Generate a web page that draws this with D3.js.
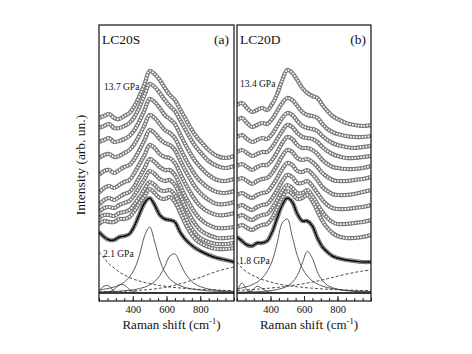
<!DOCTYPE html>
<html>
<head>
<meta charset="utf-8">
<script src="https://cdn.jsdelivr.net/npm/d3@7"></script>
<style>
  body { margin: 0; background: #fff; }
  svg { display: block; }
  text { font-family: "Liberation Serif", "Times New Roman", serif; fill: #111; }
</style>
</head>
<body>
<div id="chart"></div>
<script>
// Raman shift grid (cm-1) shared by every curve
const shifts = [200,230,260,290,320,350,380,410,440,470,500,530,560,590,620,650,680,710,740,770,800,850,900,950,1000];

// LC20S, stacked spectra from highest pressure (top) down, open-circle traces
const spectraS = [
  [175,177,179,175,174,177,180,187,197,209,222,219,213,205,198,193,184,175,166,158,152,143,137,135,137],
  [165,167,169,165,165,167,170,176,186,198,209,206,200,193,187,182,173,164,155,147,141,132,127,125,127],
  [151,153,155,151,152,154,157,163,172,183,194,191,185,178,174,169,159,149,140,132,126,118,113,112,114],
  [135,138,139,136,137,140,143,149,158,168,178,175,169,163,160,155,145,135,126,118,112,105,101,100,102],
  [118,122,123,120,123,126,128,134,143,153,163,160,154,150,148,143,133,123,114,106,100,93,89,89,91],
  [100,105,107,105,108,111,113,120,129,138,148,145,139,136,135,130,120,110,101,93,87,81,78,78,80],
  [88,93,95,93,96,99,101,107,116,125,134,131,126,123,123,118,108,97,88,80,74,68,65,65,66],
  [81,85,86,85,88,90,92,98,106,114,122,119,114,112,113,108,98,87,77,69,63,58,55,55,56],
  [75,78,78,77,80,81,83,89,96,104,111,108,103,102,103,98,88,77,67,60,55,51,49,49,50],
  [69,72,71,71,74,74,76,82,90,97,104,100,95,94,96,91,81,70,61,54,50,46,44,44,45]
];
// LC20S lowest pressure spectrum (2.1 GPa) with its fit
const lowS = [61,56,53,53,56,57,59,67,79,90,95,88,78,74,73,71,61,54,49,45,42,38,35,33,31];
const peakS245 = [1.5,7,7,1.5,0.6,0.3,0.2,0.2,0.1,0.1,0.1,0,0,0,0,0,0,0,0,0,0,0,0,0,0];
const peakS335 = [0.5,0.8,1.2,3.5,8,8,3.5,1.2,0.6,0.4,0.3,0.2,0.2,0.1,0.1,0.1,0.1,0.1,0,0,0,0,0,0,0];
const peakS495 = [3.0,3.8,4.7,6.0,8.0,11,16,24,38,57,66,51,33,21,14,9.9,7.3,5.5,4.3,3.5,2.9,2.1,1.7,1.3,1.1];
const peakS640 = [1.0,1.1,1.3,1.5,1.8,2.2,2.7,3.4,4.4,5.8,8,11.5,17.3,26.5,37,39,30,20,13.2,9,6.4,4,2.7,1.9,1.5];
const bandS_low = [41,35,29,25,21,18,15.5,13.5,12,10.5,9.5,8.5,7.5,6.8,6,5.5,5,4.6,4.2,3.9,3.6,3.2,2.9,2.6,2.4];
const bandS_high = [1,1.2,1.3,1.4,1.6,1.8,2,2.3,2.7,3.1,3.5,4.1,4.8,5.6,6.7,7.8,9.2,10.5,12.2,13.9,15.6,18.7,21.8,24,26];

// LC20D
const spectraD = [
  [188,190,185,181,183,185,183,189,199,213,223,220,213,205,200,197,195,188,182,177,174,170,168,167,168],
  [173,175,170,166,168,170,169,174,182,190,195,193,187,181,178,177,175,169,164,161,159,157,156,156,157],
  [156,158,154,151,153,155,154,159,167,175,180,178,172,167,165,164,162,157,153,150,148,146,145,146,147],
  [141,143,140,137,139,141,141,146,154,162,168,166,160,156,155,154,151,146,142,139,137,135,135,136,137],
  [127,129,126,123,126,128,128,133,141,150,156,154,148,145,145,143,139,133,129,126,125,124,124,125,127],
  [113,115,112,109,112,114,115,120,128,137,143,141,135,133,134,131,126,120,116,113,112,112,113,114,116],
  [98,100,97,95,98,100,101,107,115,124,130,128,122,121,123,119,113,106,102,99,98,98,99,101,103],
  [86,88,85,83,86,88,89,95,103,112,118,116,110,110,112,107,100,93,88,85,84,84,85,86,88],
  [76,78,75,73,76,78,79,85,93,102,108,105,100,100,103,97,89,81,75,71,69,69,70,71,73],
  [66,68,65,63,66,68,69,75,85,95,102,99,94,95,98,92,82,72,65,60,57,55,55,56,58]
];
const lowD = [56,52,48,47,50,50,52,61,75,88,95,91,79,72,72,67,55,46,41,37,35,33,32,31,31];
const peakD228 = [1.5,10,3,0.8,0.4,0.2,0.2,0.1,0.1,0.1,0,0,0,0,0,0,0,0,0,0,0,0,0,0,0];
const peakD327 = [0.3,0.4,0.8,2.5,6.8,4.5,1.5,0.6,0.3,0.2,0.2,0.1,0.1,0.1,0,0,0,0,0,0,0,0,0,0,0];
const peakD490 = [4.1,5.1,6.4,8.2,10.9,15,21.6,32,50,70,74,56.5,37.5,24.7,16.9,12,9,6.9,5.4,4.4,3.6,2.7,2.1,1.7,1.4];
const peakD625 = [0.7,0.8,0.9,1.1,1.3,1.6,2.0,2.6,3.4,4.7,6.8,10.6,17.5,29.9,41.7,34.8,21,12.4,7.8,5.3,3.8,2.4,1.6,1.2,0.9];
const bandD_low = [31,25,21,18,15.5,13.5,12,10.5,9.3,8.3,7.5,6.8,6.2,5.7,5.2,4.8,4.4,4.1,3.8,3.5,3.3,3,2.7,2.5,2.3];
const bandD_high = [2.5,2.8,3.1,3.4,3.8,4.2,4.6,5.1,5.6,6.2,6.8,7.5,8.3,9.1,10,11,12,13.1,14.3,15.5,16.7,18.8,20.5,22,23];

const majorTicks = [400, 600, 800];
const minorTicks = d3.range(200, 1001, 50);

const width = 472, height = 354;
const plotTop = 25, plotBottom = 301;

const panels = [
  {id: "s", name: "LC20S", tag: "(a)", left: 99, right: 234, spectra: spectraS, low: lowS,
   peaks: [peakS245, peakS335, peakS495, peakS640], bands: [bandS_low, bandS_high],
   hiLabel: "13.7 GPa", hiPos: [104, 90], loLabel: "2.1 GPa", loPos: [103, 257]},
  {id: "d", name: "LC20D", tag: "(b)", left: 237, right: 371, spectra: spectraD, low: lowD,
   peaks: [peakD228, peakD327, peakD490, peakD625], bands: [bandD_low, bandD_high],
   hiLabel: "13.4 GPa", hiPos: [240, 87], loLabel: "1.8 GPa", loPos: [239, 264]}
];

const svg = d3.select("#chart").append("svg")
    .attr("width", width)
    .attr("height", height);

// intensity scale, arbitrary units, shared by both panels
let y = d3.scaleLinear().domain([-8, 268]).range([plotBottom, plotTop]);

panels.forEach(p => {
    let x = d3.scaleLinear().domain([200, 1000]).range([p.left, p.right]);
    let line = d3.line()
        .x((d, i) => x(shifts[i]))
        .y(d => y(d))
        .curve(d3.curveCatmullRom.alpha(0.5));

    svg.append("clipPath").attr("id", "clip-" + p.id)
        .append("rect")
        .attr("x", p.left).attr("y", plotTop)
        .attr("width", p.right - p.left).attr("height", plotBottom - plotTop);

    let g = svg.append("g").attr("clip-path", "url(#clip-" + p.id + ")");

    // open-circle traces: grey ring band with a broken white core
    let traces = p.spectra.concat([p.low]);
    g.selectAll("path.ring")
        .data(traces)
        .enter().append("path")
        .attr("class", "ring")
        .attr("d", line)
        .attr("fill", "none")
        .attr("stroke", "#7a7a7a")
        .attr("stroke-width", 4.2)
        .attr("stroke-linejoin", "round");
    g.selectAll("path.core")
        .data(traces)
        .enter().append("path")
        .attr("class", "core")
        .attr("d", line)
        .attr("fill", "none")
        .attr("stroke", "#fff")
        .attr("stroke-width", 1.8)
        .attr("stroke-dasharray", "1.6 1.3");

    // baseline of the fit
    g.append("line")
        .attr("x1", p.left).attr("x2", p.right)
        .attr("y1", y(0)).attr("y2", y(0))
        .attr("stroke", "#000").attr("stroke-width", 1.5);

    // fitted components
    g.selectAll("path.peak")
        .data(p.peaks)
        .enter().append("path")
        .attr("class", "peak")
        .attr("d", line)
        .attr("fill", "none")
        .attr("stroke", "#333")
        .attr("stroke-width", 0.8);
    g.selectAll("path.band")
        .data(p.bands)
        .enter().append("path")
        .attr("class", "band")
        .attr("d", line)
        .attr("fill", "none")
        .attr("stroke", "#333")
        .attr("stroke-width", 0.9)
        .attr("stroke-dasharray", "3 2");

    // fit through the lowest-pressure spectrum
    g.append("path")
        .datum(p.low)
        .attr("d", line)
        .attr("fill", "none")
        .attr("stroke", "#000")
        .attr("stroke-width", 1.5);

    // axis ticks, pointing inward
    svg.append("g")
        .attr("transform", "translate(0," + plotBottom + ")")
        .call(d3.axisBottom(x).tickValues(minorTicks).tickSize(-3).tickFormat(""))
        .call(a => a.select(".domain").remove())
        .call(a => a.selectAll("line").attr("stroke", "#222"));
    svg.append("g")
        .attr("transform", "translate(0," + plotBottom + ")")
        .call(d3.axisBottom(x).tickValues(majorTicks).tickSize(-5).tickPadding(5))
        .call(a => a.select(".domain").remove())
        .call(a => a.selectAll("line").attr("stroke", "#222"))
        .call(a => a.selectAll("text")
            .attr("font-family", "Liberation Serif, serif")
            .attr("font-size", 10.5)
            .attr("fill", "#111"));

    // frame
    svg.append("rect")
        .attr("x", p.left).attr("y", plotTop)
        .attr("width", p.right - p.left).attr("height", plotBottom - plotTop)
        .attr("fill", "none")
        .attr("stroke", "#111")
        .attr("stroke-width", 1.2);

    svg.append("text")
        .attr("x", p.left + 3).attr("y", 44)
        .attr("font-size", 13.5)
        .text(p.name);
    svg.append("text")
        .attr("x", p.right - 5).attr("y", 44)
        .attr("text-anchor", "end")
        .attr("font-size", 13.5)
        .text(p.tag);
    svg.append("text")
        .attr("x", p.hiPos[0]).attr("y", p.hiPos[1])
        .attr("font-size", 9.5)
        .text(p.hiLabel);
    svg.append("text")
        .attr("x", p.loPos[0]).attr("y", p.loPos[1])
        .attr("font-size", 9.5)
        .text(p.loLabel);

    let xl = svg.append("text")
        .attr("x", (p.left + p.right) / 2 + 5).attr("y", 329)
        .attr("text-anchor", "middle")
        .attr("font-size", 13);
    xl.append("tspan").text("Raman shift (cm");
    xl.append("tspan").attr("font-size", 8.5).attr("dy", -5).text("-1");
    xl.append("tspan").attr("dy", 5).text(")");
});

svg.append("text")
    .attr("transform", "translate(85,165) rotate(-90)")
    .attr("text-anchor", "middle")
    .attr("font-size", 13.5)
    .text("Intensity (arb. un.)");
</script>
</body>
</html>
